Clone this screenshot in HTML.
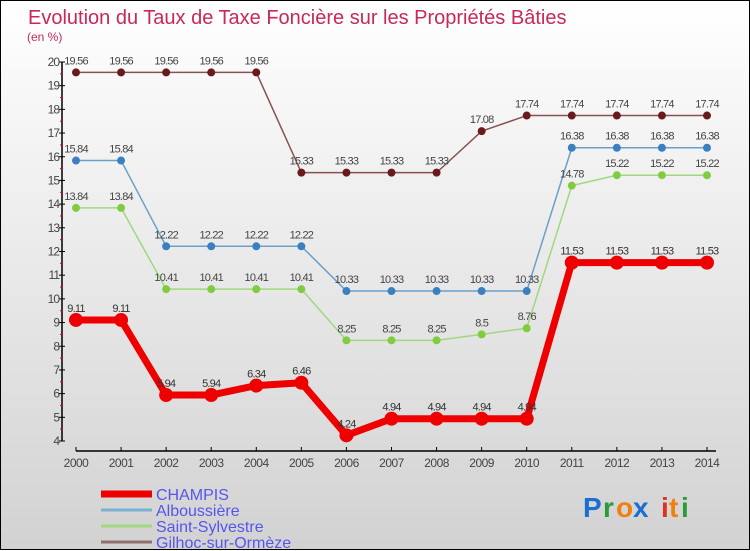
<!DOCTYPE html>
<html><head><meta charset="utf-8"><style>
html,body{margin:0;padding:0}
body{width:750px;height:550px;overflow:hidden;font-family:"Liberation Sans",sans-serif}
#wrap{position:relative;width:748px;height:548px;border:1px solid #000;background:linear-gradient(#ffffff,#d2d2d2)}
svg{position:absolute;left:0;top:0}
</style></head><body>
<div id="wrap">
<svg id="c" width="750" height="550">
<text x="27" y="23" font-size="20" fill="#c8285a">Evolution du Taux de Taxe Foncière sur les Propriétés Bâties</text>
<text x="26" y="40" font-size="12" fill="#c8285a">(en %)</text>
<g id="axes"></g><g id="series"></g><g id="legend"></g>
<g font-size="28" font-weight="bold">
<text x="582" y="516" fill="#1a6fd0">P</text><text x="602" y="516" fill="#2a9a3a">r</text><text x="615" y="516" fill="#f08010">o</text><text x="632" y="516" fill="#1a6fd0">x</text><text x="660" y="516" fill="#e03020">i</text><text x="668" y="516" fill="#f08010">t</text><text x="680" y="516" fill="#2a9a3a">i</text>
</g>
</svg></div>
<script>
const years=[2000,2001,2002,2003,2004,2005,2006,2007,2008,2009,2010,2011,2012,2013,2014];
const champis=[9.11,9.11,5.94,5.94,6.34,6.46,4.24,4.94,4.94,4.94,4.94,11.53,11.53,11.53,11.53];
const alboussiere=[15.84,15.84,12.22,12.22,12.22,12.22,10.33,10.33,10.33,10.33,10.33,16.38,16.38,16.38,16.38];
const saintSylvestre=[13.84,13.84,10.41,10.41,10.41,10.41,8.25,8.25,8.25,8.5,8.76,14.78,15.22,15.22,15.22];
const gilhoc=[19.56,19.56,19.56,19.56,19.56,15.33,15.33,15.33,15.33,17.08,17.74,17.74,17.74,17.74,17.74];
const yTicks=[4,5,6,7,8,9,10,11,12,13,14,15,16,17,18,19,20];
const NS="http://www.w3.org/2000/svg";
const X=i=>75+i*(706-75)/(years.length-1);
const Y=v=>440-(v-4)*(440-61)/16;
function mk(t,a,p,txt){const e=document.createElementNS(NS,t);for(const k in a)e.setAttribute(k,a[k]);if(txt!==undefined)e.textContent=txt;p.appendChild(e);return e;}
const ax=document.getElementById('axes');
let yl=mk('line',{x1:61,y1:Y(20),x2:61,y2:Y(4),stroke:'#000','stroke-width':1.5},ax);


yTicks.forEach(v=>{
 const tk=mk('line',{x1:58,y1:Y(v),x2:64,y2:Y(v),stroke:'#000'},ax);
 
 
 const t=mk('text',{x:58,y:Y(v)+4,'font-size':12,fill:'#444','text-anchor':'end','letter-spacing':'-1'},ax,String(v));
 
 
 if(v<20){const m=mk('line',{x1:59,y1:Y(v+0.5),x2:62,y2:Y(v+0.5),stroke:'#e00'},ax);
 
 }
});
let xl=mk('line',{x1:75,y1:450,x2:715,y2:450,stroke:'#000','stroke-width':1.5},ax);


years.forEach((y,i)=>{
 const tk=mk('line',{x1:X(i),y1:446,x2:X(i),y2:450,stroke:'#000'},ax);
 
 
 const t=mk('text',{x:X(i),y:466,'font-size':12,fill:'#444','text-anchor':'middle','letter-spacing':'-0.5'},ax,String(y));
 
 
});
const sg=document.getElementById('series');
function series(vals,line,dot,w,r,name,labelColor){
 const g=mk('g',{},sg);
 
 
 const pts=vals.map((v,i)=>X(i)+','+Y(v)).join(' ');
 const pl=mk('polyline',{points:pts,fill:'none',stroke:line,'stroke-width':w,'stroke-linejoin':'round'},g);
 
 
 vals.forEach((v,i)=>{
  const c=mk('circle',{cx:X(i),cy:Y(v),r:r,fill:dot},g);
  
  
  const t=mk('text',{x:X(i),y:Y(v)-8,'font-size':11,fill:labelColor,'text-anchor':'middle','letter-spacing':'-0.8'},g,String(v));
  
  
 });
}
series(gilhoc,'#8a5050','#6a1a1a',1.5,4,'series-gilhoc','#444');
series(alboussiere,'#6aa0c8','#3a80c0',1.5,4,'series-alboussiere','#444');
series(saintSylvestre,'#a0d880','#80cc40',1.5,4,'series-saint-sylvestre','#444');
series(champis,'#ee0000','#ee0000',7,7,'series-champis','#333');
const lg=document.getElementById('legend');
const items=[['CHAMPIS','#ee0000',7],['Alboussière','#7ab0d0',3],['Saint-Sylvestre','#a0d880',3],['Gilhoc-sur-Ormèze','#907070',3]];
items.forEach((it,i)=>{
 const y=493+i*16;
 const g=mk('g',{},lg);
 
 
 mk('line',{x1:100,y1:y,x2:151,y2:y,stroke:it[1],'stroke-width':it[2]},g);
 mk('text',{x:155,y:y+6,'font-size':16,fill:'#5555ee'},g,it[0]);
});
</script>
</body></html>
